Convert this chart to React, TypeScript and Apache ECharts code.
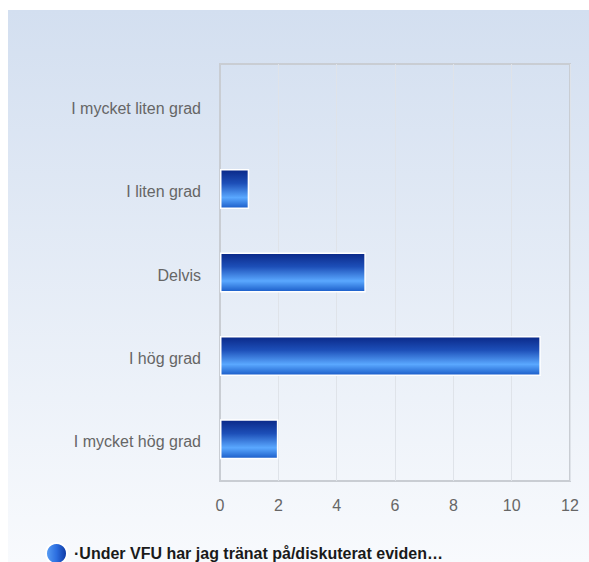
import React, { useEffect, useRef } from "react";
import * as echarts from "echarts";

const categories = ["I mycket liten grad", "I liten grad", "Delvis", "I hög grad", "I mycket hög grad"];
const values = [0, 1, 5, 11, 2];
const seriesName = "·Under VFU har jag tränat på/diskuterat eviden…";
const xMin = 0;
const xMax = 12;
const xInterval = 2;

export default function App() {
  const ref = useRef<HTMLDivElement>(null);
  useEffect(() => {
    if (!ref.current) return;
    const chart = echarts.init(ref.current, undefined, { renderer: "svg" });
    const barGradient = new echarts.graphic.LinearGradient(0, 0, 0, 1, [
      { offset: 0, color: "#0a2888" },
      { offset: 0.35, color: "#1d4fb8" },
      { offset: 0.72, color: "#5aa8ff" },
      { offset: 1, color: "#1a5cc8" },
    ]);
    const font = "Liberation Sans, Arial, sans-serif";
    chart.setOption({
      animation: false,
      graphic: [
        {
          type: "rect",
          z: -10,
          silent: true,
          shape: { x: 8, y: 10, width: 581, height: 552 },
          style: {
            fill: new echarts.graphic.LinearGradient(0, 0, 0, 1, [
              { offset: 0, color: "#d3dff0" },
              { offset: 1, color: "#f8fafd" },
            ]),
          },
        },
      ],
      grid: {
        left: 220,
        right: 19,
        top: 64,
        bottom: 81,
        show: true,
        borderColor: "#c9cdd3",
        borderWidth: 2,
        backgroundColor: "transparent",
      },
      legend: {
        left: 45,
        top: 542,
        padding: 0,
        icon: "circle",
        itemWidth: 21,
        itemHeight: 21,
        textStyle: {
          color: "#1a1a1a",
          fontSize: 16,
          fontWeight: "bold",
          fontFamily: font,
          padding: [0, 0, 6, 2],
        },
        data: [
          {
            name: seriesName,
            itemStyle: {
              color: new echarts.graphic.LinearGradient(0, 0, 1, 0, [
                { offset: 0, color: "#5aa0f5" },
                { offset: 0.5, color: "#2c6ee0" },
                { offset: 1, color: "#0c36a0" },
              ]),
            },
          },
        ],
      },
      xAxis: {
        type: "value",
        min: xMin,
        max: xMax,
        interval: xInterval,
        axisLine: { show: false },
        axisTick: { show: false },
        splitLine: { show: true, lineStyle: { color: "#dfe3e9", width: 1 } },
        axisLabel: {
          color: "#666666",
          fontSize: 16,
          margin: 16,
          fontFamily: font,
        },
      },
      yAxis: {
        type: "category",
        inverse: true,
        data: categories,
        axisLine: { show: true, lineStyle: { color: "#c9cdd3", width: 2 } },
        axisTick: { show: false },
        axisLabel: {
          color: "#666666",
          fontSize: 16,
          margin: 19,
          fontFamily: font,
          formatter: (v: string) => "{a|" + v + "}",
          rich: {
            a: {
              color: "#666666",
              fontSize: 16,
              fontFamily: font,
              padding: [5, 0, 0, 0],
            },
          },
        },
      },
      series: [
        {
          name: seriesName,
          type: "bar",
          data: values.map((v) => ({
            value: v,
            itemStyle: v === 0 ? { borderWidth: 0 } : undefined,
          })),
          barWidth: 40,
          itemStyle: {
            color: barGradient,
            borderColor: "#ffffff",
            borderWidth: 1.5,
          },
        },
      ],
    });
    return () => chart.dispose();
  }, []);
  return (
    <div
      ref={ref}
      style={{ position: "absolute", left: 0, top: 0, width: 589, height: 562 }}
    />
  );
}
